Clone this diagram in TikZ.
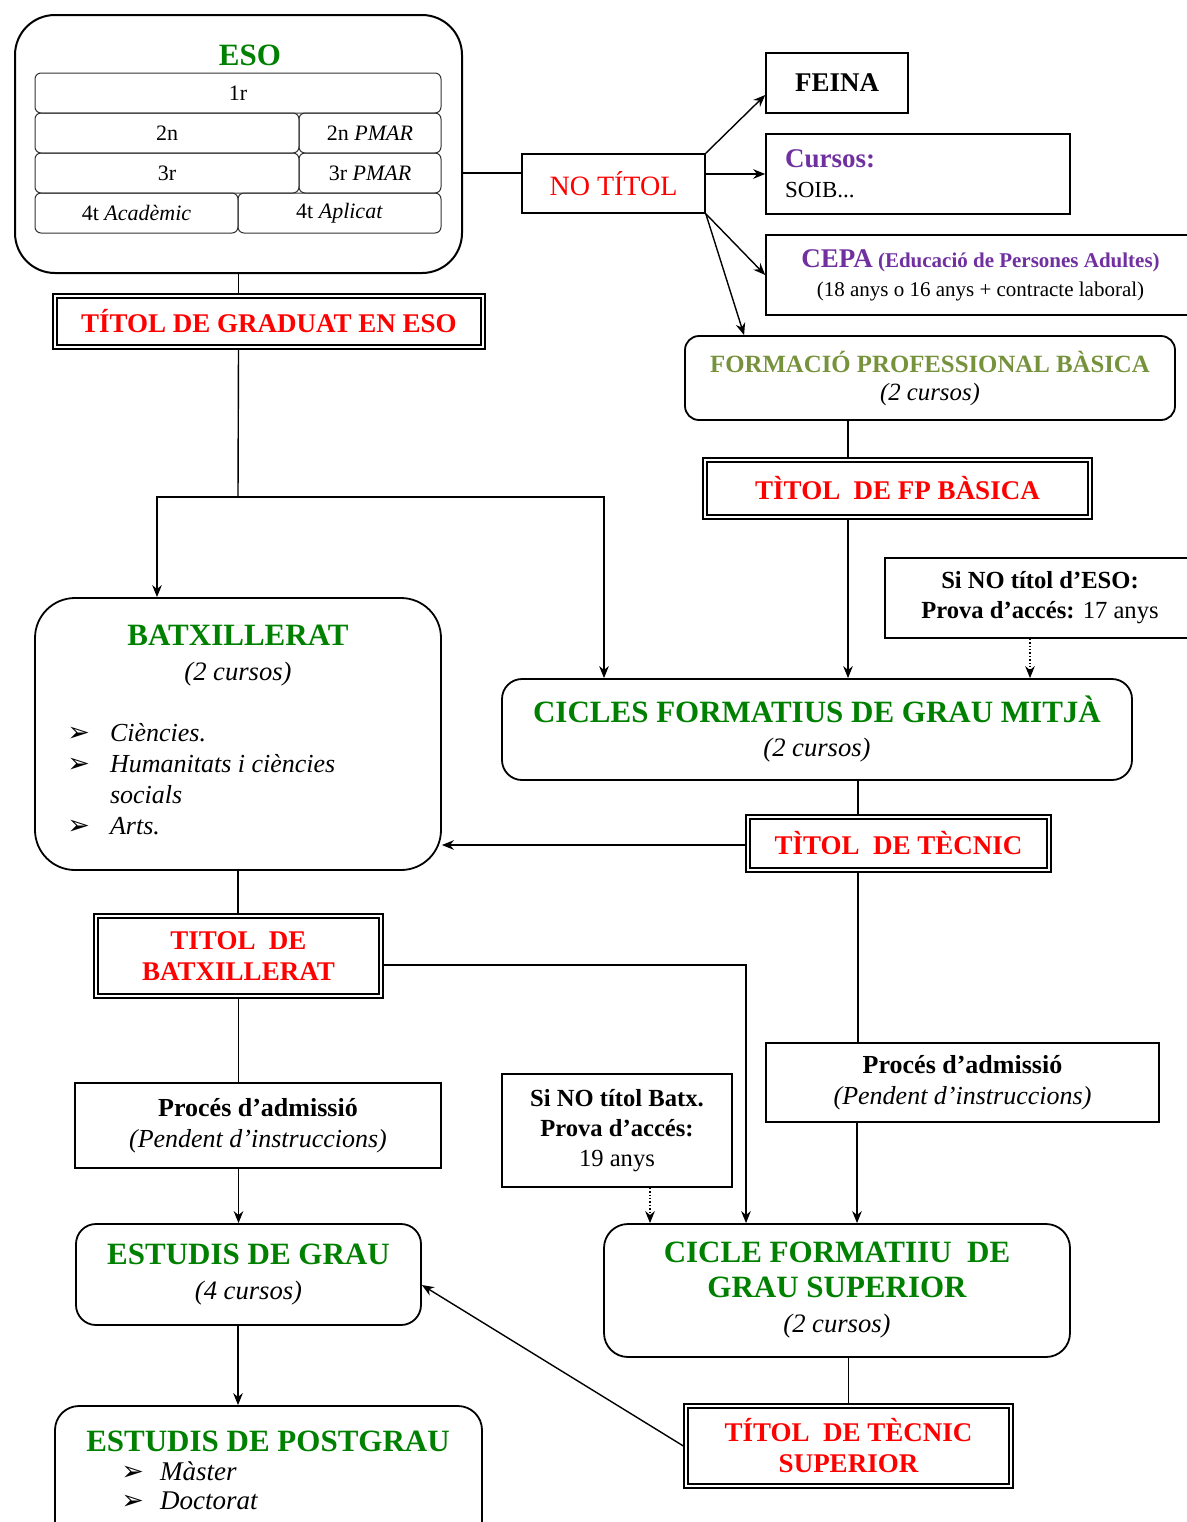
\documentclass[tikz,border=0pt]{standalone}
\usepackage{fontspec}
\setmainfont{Liberation Serif}
\newfontfamily\symfont{DejaVu Sans}
\usetikzlibrary{arrows.meta,positioning,calc}
\definecolor{esogreen}{RGB}{0,128,0}
\definecolor{fpolive}{RGB}{118,146,60}
\definecolor{cepapurple}{RGB}{112,48,160}
\definecolor{titred}{RGB}{255,0,0}
\newcommand{\grtitle}[1]{{\fontsize{15.5}{18}\selectfont\bfseries\color{esogreen}#1}}
\newcommand{\ncursos}[1]{{\fontsize{13.3}{16}\selectfont\itshape #1}}
\newcommand{\arrowbullet}{{\upshape\symfont\fontsize{13.5}{13}\selectfont ➢}}
\tikzset{>={Stealth[length=6pt,width=4.8pt]},
	rbox/.style={draw,rounded corners=#1,line width=0.9pt,inner sep=0pt,align=center},
	rbox/.default=10pt,
	sbox/.style={draw,line width=0.8pt,inner sep=0pt,align=center},
	dbox/.style={draw,double,double distance=1.2pt,line width=0.7pt,inner sep=0pt,outer sep=1.3pt,align=center,text=titred,font=\fontsize{13.5}{15.5}\selectfont\bfseries},
	rowbox/.style={draw=black!80,rounded corners=3pt,line width=0.5pt,inner sep=0pt,minimum height=20pt,font=\fontsize{11}{13}\selectfont},
	link/.style={line width=0.7pt},
	dlink/.style={line width=0.7pt,densely dotted}}
\begin{document}
\begin{tikzpicture}[x=0.5pt,y=-0.5pt]
	\useasboundingbox (0,0) rectangle (1187,1522);
	\node (eso) at (238.5,144) [rbox=20pt,minimum width=223.5pt,minimum height=129pt,line width=1pt] {};
	\node (esot) at (250,55) {\grtitle{ESO}};
	\node (r1) at (238,93) [rowbox,minimum width=203pt] {1r};
	\node (r2a) at (167,133) [rowbox,minimum width=132pt] {2n};
	\node (r2b) at (370,133) [rowbox,minimum width=71pt] {2n \textit{PMAR}};
	\node (r3a) at (167,173) [rowbox,minimum width=132pt] {3r};
	\node (r3b) at (370,173) [rowbox,minimum width=71pt] {3r \textit{PMAR}};
	\node (r4a) at (136.5,213) [rowbox,minimum width=101.5pt] {4t \textit{Acadèmic}};
	\node (r4b) at (339.5,213) [rowbox,minimum width=101.5pt] {4t \textit{Aplicat}};
	\node (notitol) at (613.5,183.5) [sbox,minimum width=91.5pt,minimum height=29.5pt,text=titred,font=\fontsize{14}{16}\selectfont] {NO TÍTOL};
	\node (feina) at (837,83) [sbox,minimum width=71pt,minimum height=30pt,font=\fontsize{13.5}{16}\selectfont\bfseries] {FEINA};
	\node (cursos) at (918,174) [sbox,minimum width=152pt,minimum height=40pt,text width=133pt,align=left,inner xsep=9.5pt,font=\fontsize{11.5}{15}\selectfont] {{\fontsize{13.5}{15}\selectfont\bfseries\color{cepapurple}Cursos:}\\ SOIB...};
	\node (cepa) at (980.5,275) [sbox,minimum width=214.5pt,minimum height=40pt,font=\fontsize{10.5}{14.5}\selectfont] {{\color{cepapurple}\bfseries{\fontsize{13.5}{14.5}\selectfont CEPA} (Educació de Persones Adultes)}\\ (18 anys o 16 anys + contracte laboral)};
	\node (fpb) at (930,378) [rbox=7pt,minimum width=245pt,minimum height=42pt,font=\fontsize{12.4}{14}\selectfont] {{\bfseries\color{fpolive}FORMACIÓ PROFESSIONAL BÀSICA}\\ \textit{(2 cursos)}};
	\node (tgrad) at (269,321.5) [dbox,minimum width=214pt,minimum height=25.5pt] {TÍTOL DE GRADUAT EN ESO};
	\node (tfpb) at (897.5,488.5) [dbox,minimum width=192.5pt,minimum height=28.5pt] {TÌTOL\ \ DE FP BÀSICA};
	\node (sieso) at (1040,598) [sbox,minimum width=155pt,minimum height=40pt,font=\fontsize{12.3}{15}\selectfont] {\textbf{Si NO títol d’ESO:}\\ \textbf{Prova d’accés:} 17 anys};
	\node (cfgm) at (817,729.5) [rbox,minimum width=315pt,minimum height=50.5pt,font=\fontsize{13}{17}\selectfont] {\grtitle{CICLES FORMATIUS DE GRAU MITJÀ}\\ \ncursos{(2 cursos)}};
	\node (batx) at (238,734) [rbox=20pt,minimum width=203pt,minimum height=136pt] {};
	\node (batxt) at (238,656) [align=center,font=\fontsize{13}{17.5}\selectfont] {\grtitle{BATXILLERAT}\\ \ncursos{(2 cursos)}};
	\node (batxl) at (67,782) [anchor=west,inner sep=0pt,font=\fontsize{13}{15.5}\selectfont\itshape] {\begin{tabular}{@{}l@{\hspace{10pt}}l@{}}\arrowbullet & Ciències.\\ \arrowbullet & Humanitats i ciències\\ & socials\\ \arrowbullet & Arts.\end{tabular}};
	\node (ttec) at (898.5,843.5) [dbox,minimum width=150.5pt,minimum height=26.5pt] {TÌTOL\ \ DE TÈCNIC};
	\node (tbatx) at (238.5,956) [dbox,minimum width=142.5pt,minimum height=40pt] {TITOL\ \ DE\\ BATXILLERAT};
	\node (padm1) at (258,1125.5) [sbox,minimum width=183pt,minimum height=42.5pt,font=\fontsize{13}{15.5}\selectfont] {\textbf{Procés d’admissió}\\ \textit{(Pendent d’instruccions)}};
	\node (sibatx) at (617,1130.5) [sbox,minimum width=115pt,minimum height=56.5pt,font=\fontsize{12.3}{15}\selectfont] {\textbf{Si NO títol Batx.}\\ \textbf{Prova d’accés:}\\ 19 anys};
	\node (padm2) at (962.5,1082.5) [sbox,minimum width=196.5pt,minimum height=39.5pt,font=\fontsize{13}{15.5}\selectfont] {\textbf{Procés d’admissió}\\ \textit{(Pendent d’instruccions)}};
	\node (grau) at (248.5,1274.5) [rbox,minimum width=172.5pt,minimum height=50.5pt,font=\fontsize{13}{17.5}\selectfont] {\grtitle{ESTUDIS DE GRAU}\\ \ncursos{(4 cursos)}};
	\node (cfgs) at (837,1290.5) [rbox=12pt,minimum width=233pt,minimum height=66.5pt,font=\fontsize{13}{17.5}\selectfont] {\grtitle{CICLE FORMATIIU\ \ DE}\\ \grtitle{GRAU SUPERIOR}\\ \ncursos{(2 cursos)}};
	\node (ttsup) at (848.5,1446) [dbox,minimum width=162.5pt,minimum height=40pt] {TÍTOL\ \ DE TÈCNIC\\ SUPERIOR};
	\node (postgrau) at (268.5,1483) [rbox=12pt,minimum width=213.5pt,minimum height=77pt] {};
	\node (postgraut) at (268,1441) {\grtitle{ESTUDIS DE POSTGRAU}};
	\node (postgraul) at (121,1489) [anchor=west,inner sep=0pt,font=\fontsize{13.5}{14.5}\selectfont\itshape] {\begin{tabular}{@{}l@{\hspace{8pt}}l@{}}\arrowbullet & Màster\\ \arrowbullet & Doctorat\end{tabular}};
	\coordinate (split) at (238,497);
	\draw [link] ([yshift=5.25pt]notitol.west) -- ([yshift=5.25pt]notitol.west -| eso.east);
	\draw [link,->] (notitol.north east) -- ([yshift=-6pt]feina.west);
	\draw [link,->] (cursos.west -| notitol.east) -- (cursos.west);
	\draw [link,->] (notitol.south east) -- (cepa.west);
	\draw [link,->] (notitol.south east) -- ([xshift=30pt]fpb.north west);
	\draw [link] (eso.south) -- (eso.south |- tgrad.north);
	\draw [link] (eso.south |- tgrad.south) -- (split);
	\draw [link,->] (split) -| ([xshift=-40.5pt]batx.north);
	\draw [link,->] (split) -| ([xshift=-106.5pt]cfgm.north);
	\draw [link] ([xshift=-24.75pt]tfpb.north) -- ([xshift=-24.75pt]tfpb.north |- fpb.south);
	\draw [link,->] ([xshift=-24.75pt]tfpb.south) -- ([xshift=-24.75pt]tfpb.south |- cfgm.north);
	\draw [dlink,->] ([xshift=-5pt]sieso.south) -- ([xshift=-5pt]sieso.south |- cfgm.north);
	\draw [link] ([xshift=-20.25pt]ttec.north) -- ([xshift=-20.25pt]ttec.north |- cfgm.south);
	\draw [link,->] ([yshift=-0.75pt]ttec.west) -- ([yshift=-0.75pt]ttec.west -| batx.east);
	\draw [link] ([xshift=-20.25pt]ttec.south) -- ([xshift=-20.25pt]ttec.south |- padm2.north);
	\draw [link] (batx.south) -- (batx.south |- tbatx.north);
	\draw [link,->] ([yshift=-4.5pt]tbatx.east) -| ([xshift=-45.5pt]cfgs.north);
	\draw [link] (tbatx.south) -- (tbatx.south |- padm1.north);
	\draw [link,->] (tbatx.south |- padm1.south) -- (tbatx.south |- grau.north);
	\draw [dlink,->] ([xshift=16.5pt]sibatx.south) -- ([xshift=16.5pt]sibatx.south |- cfgs.north);
	\draw [link,->] ([xshift=-52.75pt]padm2.south) -- ([xshift=-52.75pt]padm2.south |- cfgs.north);
	\draw [link,->] ([xshift=-5.25pt]grau.south) -- ([xshift=-5.25pt]grau.south |- postgrau.north);
	\draw [link] (ttsup.north) -- (ttsup.north |- cfgs.south);
	\draw [link,->] (ttsup.west) -- ([yshift=-5.25pt]grau.east);
\end{tikzpicture}
\end{document}
